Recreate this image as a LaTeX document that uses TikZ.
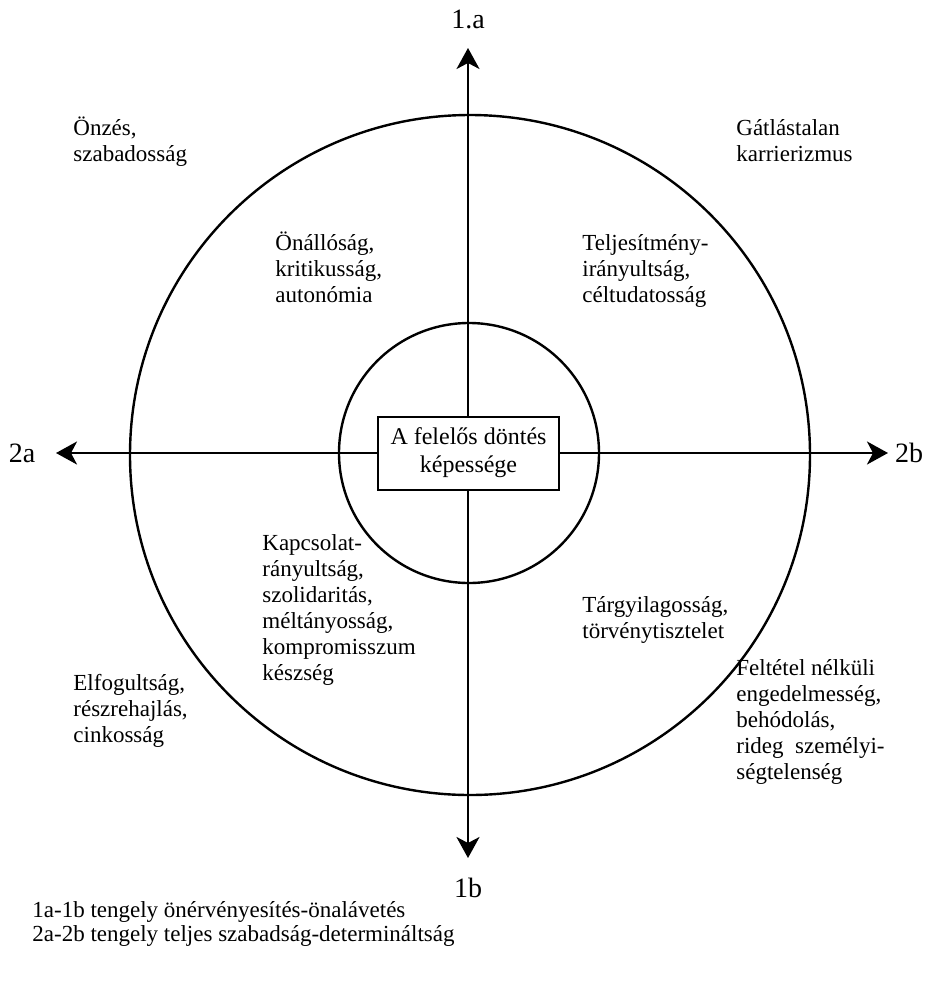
\documentclass[tikz,border=0pt]{standalone}
\usepackage{fontspec}
\setmainfont{Liberation Serif}
\usetikzlibrary{arrows.meta}
\begin{document}
\begin{tikzpicture}[x=0.5pt,y=-0.5pt,
  lbl/.style={font=\fontsize{11.5}{13}\selectfont, align=left, anchor=base west, inner sep=0pt},
  legend/.style={font=\fontsize{11.5}{12}\selectfont, align=left, anchor=base west, inner sep=0pt},
  axislbl/.style={font=\fontsize{14}{16}\selectfont, inner sep=0pt},
  axisline/.style={line width=1.25pt, {Stealth[length=10.5pt,width=11.5pt,inset=3pt]}-{Stealth[length=10.5pt,width=11.5pt,inset=3pt]}},
  ring/.style={draw, circle, line width=1.2pt, inner sep=0pt},
  centerbox/.style={draw, fill=white, line width=1pt, align=center, font=\fontsize{12}{14}\selectfont, minimum width=90.5pt, minimum height=36.5pt, inner sep=0pt}]
\path[fill=white, use as bounding box] (0,0) rectangle (935,981);

\node[ring, minimum size=340pt] (outer) at (470,455) {};
\node[ring, minimum size=130pt] (inner) at (469,453) {};

\coordinate (t) at (468,48);
\coordinate (b) at (468,858);
\coordinate (l) at (56,453);
\coordinate (r) at (888,453);
\draw[axisline] (b) -- (t);
\draw[axisline] (l) -- (r);

\node[centerbox] (core) at (468.5,453) {A felelős döntés\\képessége};

\node[axislbl] (la) at (468,19) {1.a};
\node[axislbl] (lb) at (468,888) {1b};
\node[axislbl] (l2a) at (22,453) {2a};
\node[axislbl] (l2b) at (909,453) {2b};

\node[lbl] (onzes) at (73,161) {Önzés,\\szabadosság};
\node[lbl] (gatlas) at (736,161) {Gátlástalan\\karrierizmus};
\node[lbl] (onallo) at (275,302) {Önállóság,\\kritikusság,\\autonómia};
\node[lbl] (teljes) at (582,302) {Teljesítmény-\\irányultság,\\céltudatosság};
\node[lbl] (kapcs) at (262,680) {Kapcsolat-\\rányultság,\\szolidaritás,\\méltányosság,\\kompromisszum\\készség};
\node[lbl] (targy) at (582,638) {Tárgyilagosság,\\törvénytisztelet};
\node[lbl] (elfog) at (73,742) {Elfogultság,\\részrehajlás,\\cinkosság};
\node[lbl] (feltet) at (736,779) {Feltétel nélküli\\engedelmesség,\\behódolás,\\rideg~~személyi-\\ségtelenség};

\node[legend] (leg) at (32,941) {1a-1b tengely önérvényesítés-önalávetés\\2a-2b tengely teljes szabadság-determináltság};
\end{tikzpicture}
\end{document}
